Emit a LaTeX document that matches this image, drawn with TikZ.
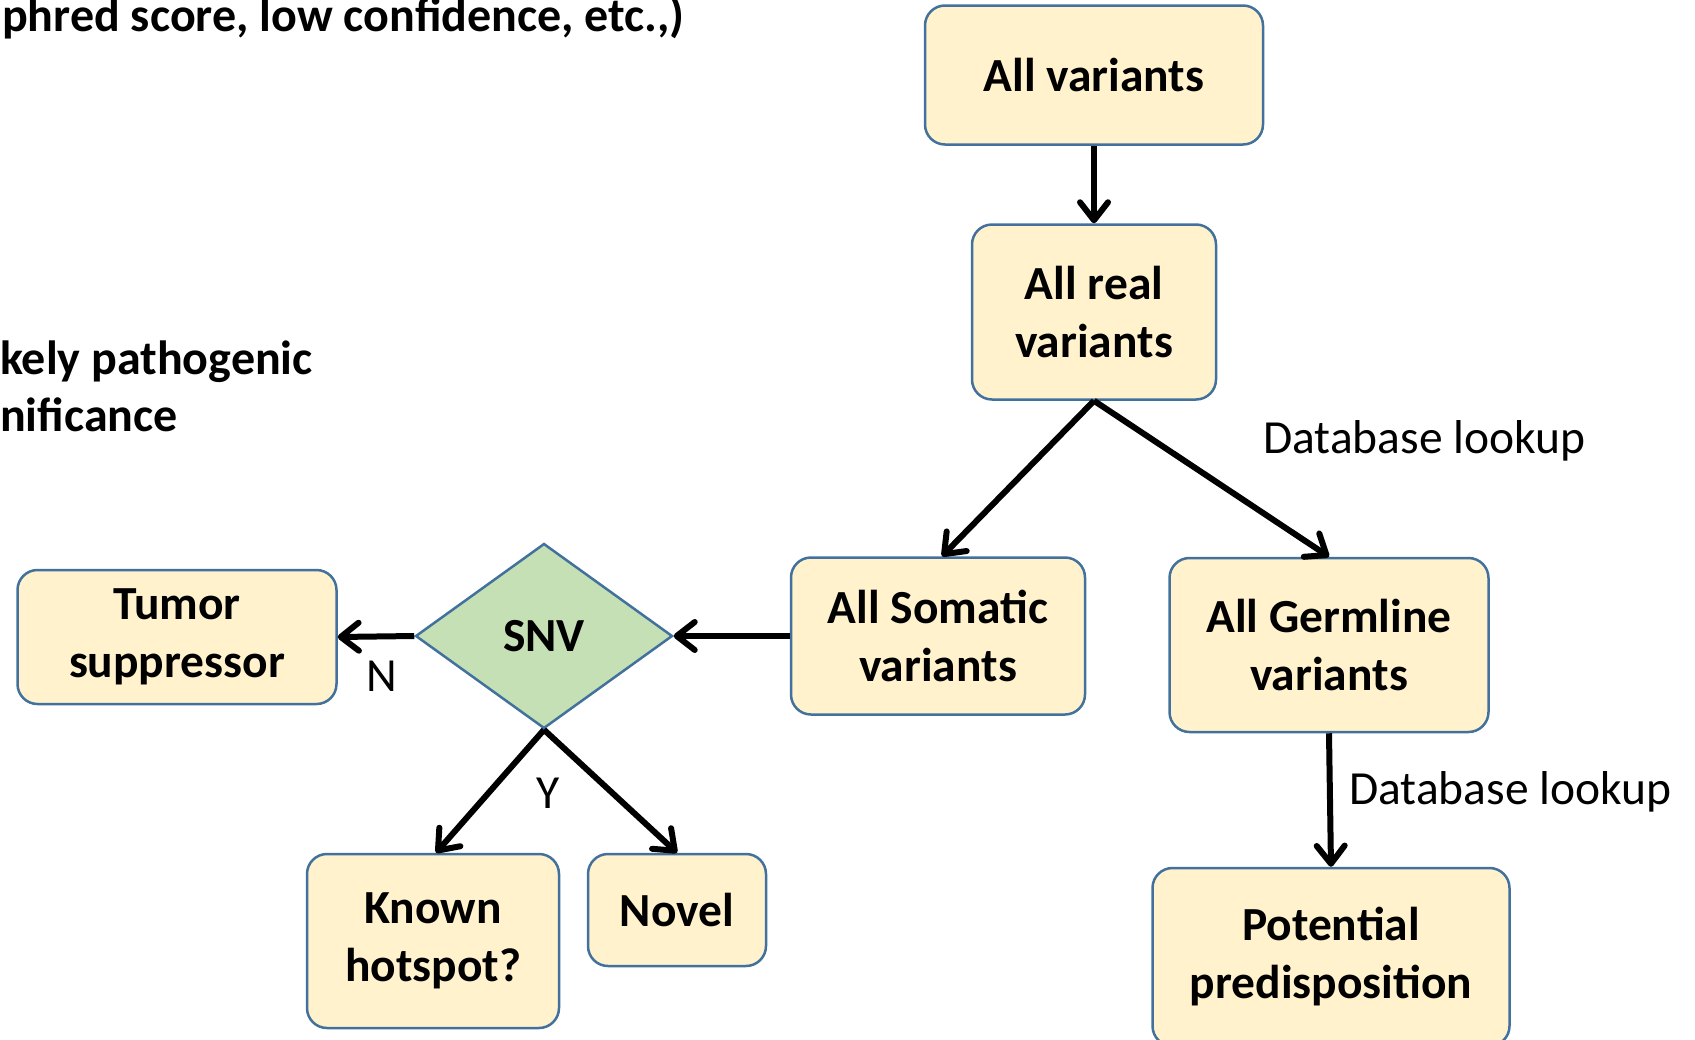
\documentclass[tikz,border=0pt]{standalone}
\usepackage{fontspec}
\setmainfont{Carlito}
\usetikzlibrary{arrows.meta,shapes.geometric}
\definecolor{boxfill}{HTML}{FFF2CC}
\definecolor{boxline}{HTML}{41719C}
\definecolor{snvfill}{HTML}{C5E0B4}
\begin{document}
\begin{tikzpicture}[x=1pt,y=-1pt,
  box/.style={draw=boxline, line width=2.5pt, fill=boxfill, rounded corners=20pt,
    align=center, inner sep=0pt, font=\fontsize{47.5}{58}\selectfont\bfseries},
  decision/.style={diamond, draw=boxline, line width=2.5pt, fill=snvfill,
    aspect=1.39, inner sep=0pt, font=\fontsize{47.5}{58}\selectfont\bfseries},
  flow/.style={line width=6pt, -{Straight Barb[length=18pt,width=28pt,round]}},
  note/.style={inner sep=0pt, font=\fontsize{47.5}{58}\selectfont},
  heading/.style={inner sep=0pt, anchor=base west, font=\fontsize{48}{58}\selectfont\bfseries}
]
\useasboundingbox (0,0) rectangle (1695,1039);

% text running in from the left
\node[heading] (t1) at (2,31) {phred score, low confidence, etc.,)};
\node[heading] (t2) at (0,374) {kely pathogenic};
\node[heading] (t3) at (0,431) {nificance};

% boxes
\node[box, minimum width=338, minimum height=139] (all) at (1094,75) {All variants};
\node[box, minimum width=244, minimum height=175] (real) at (1094,312) {All real\\variants};
\node[box, minimum width=294, minimum height=157] (som) at (938,636) {All Somatic\\variants};
\node[box, minimum width=319, minimum height=174] (germ) at (1329,645) {All Germline\\variants};
\node[box, minimum width=357, minimum height=178] (pot) at (1331,957) {Potential\\predisposition};
\node[decision, minimum width=257, minimum height=185] (snv) at (544,636) {SNV};
\node[box, minimum width=319, minimum height=134] (tum) at (177,637) {Tumor\\suppressor};
\node[box, minimum width=252, minimum height=174] (known) at (433,941) {Known\\hotspot?};
\node[box, minimum width=178, minimum height=112] (novel) at (677,910) {Novel};

% connectors
\draw[flow] (all.south) -- (real.north);
\draw[flow] (real.south) -- ([xshift=4pt]som.north);
\draw[flow] (real.south) -- (germ.north);
\draw[flow] (som.west) -- (snv.east);
\draw[flow] (snv.west) -- (tum.east);
\draw[flow] (snv.south) -- ([xshift=3pt]known.north);
\draw[flow] (snv.south) -- (novel.north);
\draw[flow] (germ.south) -- (pot.north);

% connector labels
\node[note, anchor=west] (db1) at (1263,441) {Database lookup};
\node[note, anchor=west] (db2) at (1349,792) {Database lookup};
\node[note] (no) at (382,676) {N};
\node[note] (yes) at (548,793) {Y};
\end{tikzpicture}
\end{document}
